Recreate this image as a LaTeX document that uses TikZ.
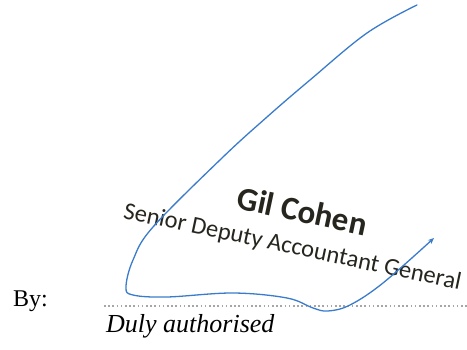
\documentclass[tikz,border=0pt]{standalone}
\usepackage{fontspec}
\setmainfont{Liberation Serif}
\newfontfamily\stampfont{Carlito}
\usetikzlibrary{arrows.meta}
\definecolor{sigblue}{HTML}{3A7CCB}
\definecolor{stampink}{HTML}{26251E}
\begin{document}
\begin{tikzpicture}[x=1pt,y=-1pt,
  plain/.style={anchor=base west, inner sep=0pt, font=\fontsize{24}{28}\selectfont, text=black},
  stamp/.style={anchor=base, inner sep=0pt, text=stampink, rotate=-12},
  dotline/.style={draw=gray!70, line width=2pt, dash pattern=on 1.6pt off 2.6pt},
  sig/.style={draw=sigblue, line width=1.3pt, line cap=round, line join=round}]
\useasboundingbox (0,0) rectangle (467,350);
\node[plain] (by) at (13,307) {By:};
\coordinate (ls) at (104,306);
\coordinate (le) at (467,306);
\draw[dotline] (ls) -- (le);
\node[plain, font=\fontsize{26}{30}\selectfont\itshape] (duly) at (106,333) {Duly authorised};
\node[stamp, font=\fontsize{33}{36}\selectfont\stampfont\bfseries] (name) at (300,222) {Gil Cohen};
\node[stamp, font=\fontsize{24.5}{28}\selectfont\stampfont] (title) at (291,254) {Senior Deputy Accountant General};
\draw[sig, -{Stealth[length=6pt,width=5pt]}] plot[smooth, tension=0.6] coordinates {
  (417,5) (367,33) (310,80) (267,117) (222,158) (153,227) (133,260) (126,287)
  (133,295) (167,297) (233,293) (287,298) (313,308) (328,311) (350,305)
  (383,283) (434,238)};
\end{tikzpicture}
\end{document}
